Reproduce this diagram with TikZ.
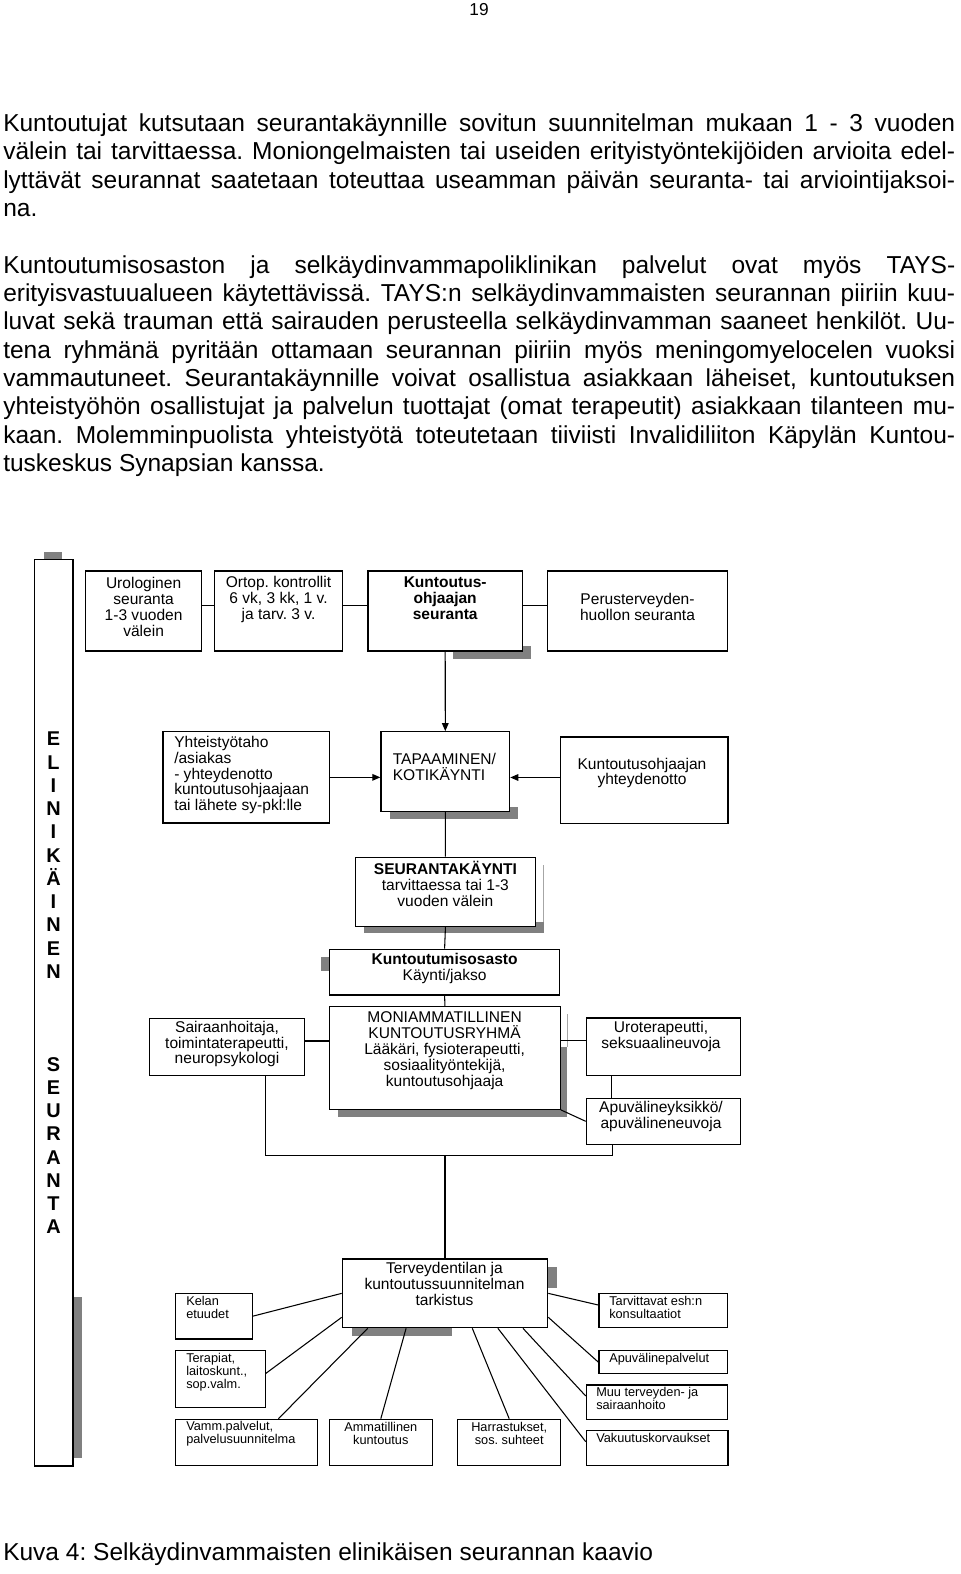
\documentclass[tikz,border=0pt]{standalone}
\usepackage{fontspec}
\setmainfont{Liberation Sans}
\usepackage{graphicx}
\usetikzlibrary{fit,arrows.meta}
\frenchspacing
\newlength\jlw
\setlength\jlw{714bp}
\newcommand\jline[1]{\sbox0{#1}\ifdim\wd0>\jlw\resizebox{\jlw}{\ht0}{#1}\else\makebox[\jlw][s]{#1}\fi}
\tikzset{
 box/.style={draw, line width=0.9pt, fill=white, inner sep=0pt},
 shd/.style={fill=black!50, draw=none},
 thinshd/.style={draw=black!35, line width=0.6pt},
 con/.style={line width=0.8pt},
 arr/.style={con, -{Triangle[length=6pt,width=5pt]}},
 tx/.style={font=\fontsize{11.7}{12}\selectfont, align=center, inner sep=0pt},
 txl/.style={tx, align=left, anchor=west},
 sm/.style={font=\fontsize{9.6}{9.75}\selectfont, align=left, anchor=west, inner sep=0pt},
 smc/.style={sm, align=center, anchor=center},
 body/.style={font=\fontsize{18.45}{21}\selectfont, anchor=base west, inner sep=0pt},
}
\begin{document}
\begin{tikzpicture}[x=0.75bp,y=-0.75bp]
\useasboundingbox (0,0) rectangle (960,1574);
% page number
\node[font=\fontsize{13}{13}\selectfont, inner sep=0pt] (pg) at (479,10) {19};
% body text
\node[body] (l1) at (3,131.5) {\jline{Kuntoutujat kutsutaan seurantakäynnille sovitun suunnitelman mukaan 1 - 3 vuoden}};
\node[body] (l2) at (3,159.8) {\jline{välein tai tarvittaessa. Moniongelmaisten tai useiden erityistyöntekijöiden arvioita edel-}};
\node[body] (l3) at (3,188.2) {\jline{lyttävät seurannat saatetaan toteuttaa useamman päivän seuranta- tai arviointijaksoi-}};
\node[body] (l4) at (3,216.5) {na.};
\node[body] (l6) at (3,273.2) {\jline{Kuntoutumisosaston ja selkäydinvammapoliklinikan palvelut ovat myös TAYS-}};
\node[body] (l7) at (3,301.5) {\jline{erityisvastuualueen käytettävissä. TAYS:n selkäydinvammaisten seurannan piiriin kuu-}};
\node[body] (l8) at (3,329.8) {\jline{luvat sekä trauman että sairauden perusteella selkäydinvamman saaneet henkilöt. Uu-}};
\node[body] (l9) at (3,358.2) {\jline{tena ryhmänä pyritään ottamaan seurannan piiriin myös meningomyelocelen vuoksi}};
\node[body] (l10) at (3,386.5) {\jline{vammautuneet. Seurantakäynnille voivat osallistua asiakkaan läheiset, kuntoutuksen}};
\node[body] (l11) at (3,414.8) {\jline{yhteistyöhön osallistujat ja palvelun tuottajat (omat terapeutit) asiakkaan tilanteen mu-}};
\node[body] (l12) at (3,443.2) {\jline{kaan. Molemminpuolista yhteistyötä toteutetaan tiiviisti Invalidiliiton Käpylän Kuntou-}};
\node[body] (l13) at (3,471.5) {tuskeskus Synapsian kanssa.};
% caption
\node[body] (cap) at (3,1560) {Kuva 4: Selkäydinvammaisten elinikäisen seurannan kaavio};

% ---- shadows
\fill[shd] (43.8,552.3) rectangle (62,559.3);
\fill[shd] (73,1297) rectangle (82,1458);
\fill[shd] (453,646) rectangle (531,658.5);
\fill[shd] (390,807) rectangle (518.3,819);
\fill[shd] (364,921.7) rectangle (543.8,933.3);
\draw[thinshd] (543.3,865) -- (543.3,921.7);
\fill[shd] (321,956.7) rectangle (329.6,970.7);
\fill[shd] (338,1046.7) rectangle (567,1117);
\draw[thinshd] (567.6,1014) -- (567.6,1046.7);
\fill[shd] (351.7,1322) rectangle (451.7,1335.7);
\fill[shd] (547.7,1266.7) rectangle (556.7,1287.7);

% ---- left bar
\node[box, fit={(34.1,559.3) (73,1466)}] (bar) {};
\node[font=\fontsize{15}{17.5}\selectfont\bfseries, align=center, inner sep=0pt] (barT) at (53.5,983)
 {E\\L\\I\\N\\I\\K\\Ä\\I\\N\\E\\N\\[52.5pt]S\\E\\U\\R\\A\\N\\T\\A};

% ---- top row
\node[box, fit={(85.8,571) (201.5,651)}] (uro) {};
\node[box, fit={(214.2,571) (342.7,651)}] (ort) {};
\node[box, fit={(368,571) (522.4,651)}] (kso) {};
\node[box, fit={(547.7,571) (727.3,651)}] (per) {};
\node[tx] (uro-t) at (143.6,607) {Urologinen\\seuranta\\1-3 vuoden\\välein};
\node[tx] (ort-t) at (278.5,599.5) {Ortop. kontrollit\\6 vk, 3 kk, 1 v.\\ja tarv. 3 v.};
\node[tx, font=\fontsize{11.7}{12}\selectfont\bfseries] (kso-t) at (445.2,598.5) {Kuntoutus-\\ohjaajan\\seuranta};
\node[tx] (per-t) at (637.5,607) {Perusterveyden-\\huollon seuranta};

% ---- middle
\node[box, fit={(163,731.7) (329.6,823)}] (yht) {};
\node[box, fit={(380.9,731.7) (509.7,811.3)}] (tap) {};
\node[box, fit={(560.3,737) (728,823.3)}] (kyo) {};
\node[box, fit={(355.4,857.3) (535.5,926.3)}] (seu) {};
\node[box, fit={(329.6,949.3) (559.6,995)}] (kos) {};
\node[box, fit={(329.6,1006.7) (560.3,1109.3)}] (mon) {};
\node[box, fit={(149.8,1018.3) (304.4,1075.7)}] (sai) {};
\node[box, fit={(586.3,1018) (740.7,1075.7)}] (uro2) {};
\node[box, fit={(586.3,1098.3) (740.7,1144.3)}] (apu) {};
\node[txl] (yht-t) at (174,775) {Yhteistyötaho\\/asiakas\\- yhteydenotto\\kuntoutusohjaajaan\\tai lähete sy-pkl:lle};
\node[txl] (tap-t) at (392.6,767) {TAPAAMINEN/\\KOTIKÄYNTI};
\node[tx] (kyo-t) at (642,773) {Kuntoutusohjaajan\\yhteydenotto};
\node[tx] (seu-t) at (445.4,883.5) {\textbf{SEURANTAKÄYNTI}\\tarvittaessa tai 1-3\\vuoden välein};
\node[tx] (kos-t) at (444.6,968) {\textbf{Kuntoutumisosasto}\\Käynti/jakso};
\node[tx] (mon-t) at (444.6,1051) {MONIAMMATILLINEN\\KUNTOUTUSRYHMÄ\\Lääkäri, fysioterapeutti,\\sosiaalityöntekijä,\\kuntoutusohjaaja};
\node[tx] (sai-t) at (227,1044) {Sairaanhoitaja,\\toimintaterapeutti,\\neuropsykologi};
\node[tx] (uro2-t) at (661,1036) {Uroterapeutti,\\seksuaalineuvoja};
\node[tx] (apu-t) at (661,1116) {Apuvälineyksikkö/\\apuvälineneuvoja};

% ---- bottom
\node[box, fit={(342.3,1259) (547.7,1327.7)}] (ter) {};
\node[box, fit={(175.7,1293.3) (252.3,1339)}] (kel) {};
\node[box, fit={(175.7,1350.7) (265.3,1407.7)}] (tera) {};
\node[box, fit={(175.7,1419.3) (317.3,1465.7)}] (vam) {};
\node[box, fit={(329.3,1419.3) (432.3,1465.7)}] (amm) {};
\node[box, fit={(457.7,1419.3) (560.7,1465.7)}] (har) {};
\node[box, fit={(599,1293.3) (727.3,1327.7)}] (tar) {};
\node[box, fit={(599,1350.7) (727.3,1373.7)}] (apv) {};
\node[box, fit={(586.3,1385) (727.3,1419.7)}] (muu) {};
\node[box, fit={(586.3,1430.7) (728,1465.7)}] (vak) {};
\node[tx] (ter-t) at (444.5,1283.5) {Terveydentilan ja\\kuntoutussuunnitelman\\tarkistus};
\node[sm] (kel-t) at (186,1307) {Kelan\\etuudet};
\node[sm] (tera-t) at (186,1372) {Terapiat,\\laitoskunt.,\\sop.valm.};
\node[sm] (vam-t) at (186,1434) {Vamm.palvelut,\\palvelusuunnitelma};
\node[smc] (amm-t) at (380.8,1433.5) {Ammatillinen\\kuntoutus};
\node[smc] (har-t) at (509.2,1433.5) {Harrastukset,\\sos. suhteet};
\node[sm] (tar-t) at (609,1307) {Tarvittavat esh:n\\konsultaatiot};
\node[sm] (apv-t) at (609,1359) {Apuvälinepalvelut};
\node[sm] (muu-t) at (596,1398) {Muu terveyden- ja\\sairaanhoito};
\node[sm] (vak-t) at (596,1438) {Vakuutuskorvaukset};

% ---- connectors
\draw[con] ([yshift=4bp]uro.east) -- ([yshift=4bp]ort.west);
\draw[con] ([yshift=4bp]ort.east) -- ([yshift=4bp]kso.west);
\draw[con] ([yshift=4bp]kso.east) -- ([yshift=4bp]per.west);
\draw[arr] (kso.south) -- (tap.north);
\draw[arr] (yht.east) -- (yht.east -| tap.west);
\draw[arr] ([yshift=2bp]kyo.west) -- ([yshift=2bp]kyo.west -| tap.east);
\draw[con] (tap.south) -- (seu.north);
\draw[con] (seu.south) -- (kos.north);
\draw[con] (kos.south) -- (mon.north);
\draw[con] ([yshift=4.5bp]sai.east) -- ([yshift=4.5bp]sai.east -| mon.west);
\draw[con] ([yshift=4.5bp]uro2.west) -- ([yshift=4.5bp]uro2.west -| mon.east);
\draw[con] ([xshift=19.5bp]uro2.south west) -- ([xshift=19.5bp]apu.north west);
\draw[con] (mon.south east) -- (apu.west);
\coordinate (busL) at (265.9,1155.7);
\coordinate (busR) at (612.3,1155.7);
\draw[con] (sai.south -| busL) -- (busL) -- (busR) -- (apu.south -| busR);
\draw[con] (ter.north |- busL) -- (ter.north);
\draw[con] (kel.east) -- (ter.west);
\draw[con] ([yshift=4.4bp]tera.east) -- ([yshift=8.25bp]ter.south west);
\draw[con] ([xshift=77.5bp]vam.north west) -- ([xshift=19.5bp]ter.south west);
\draw[con] (amm.north) -- ([xshift=48.3bp]ter.south west);
\draw[con] (har.north) -- ([xshift=-57bp]ter.south east);
\draw[con] ([xshift=-37.8bp]ter.south east) -- ([yshift=4.9bp]vak.west);
\draw[con] ([xshift=-19bp]ter.south east) -- ([yshift=4.8bp]muu.west);
\draw[con] ([yshift=8.25bp]ter.south east) -- (apv.west);
\draw[con] (ter.east) -- ([yshift=4.1bp]tar.west);
\end{tikzpicture}
\end{document}
